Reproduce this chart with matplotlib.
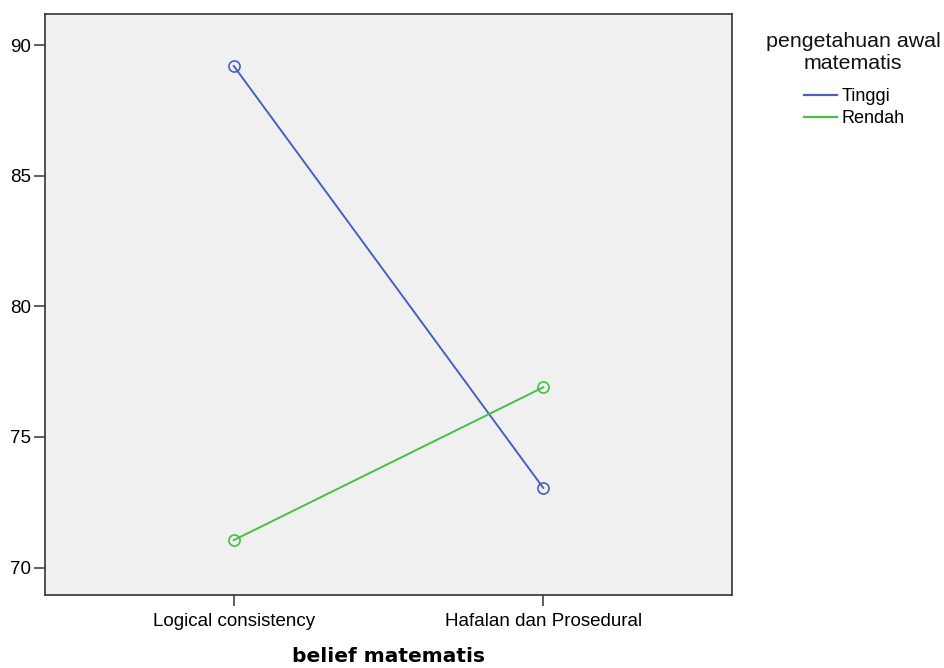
import matplotlib
matplotlib.use("Agg")
import matplotlib.pyplot as plt

categories = ["Logical consistency", "Hafalan dan Prosedural"]
tinggi = [89.2, 73.05]
rendah = [71.05, 76.9]
series_names = ["Tinggi", "Rendah"]
yticks = [70, 75, 80, 85, 90]
legend_title = ["pengetahuan awal", "matematis"]

plt.rcParams['font.family'] = ['Liberation Sans', 'DejaVu Sans']

W, H = 944, 668
fig = plt.figure(figsize=(W/100, H/100), dpi=100)
ax = fig.add_axes([45/W, 1-595/H, (732-45)/W, (595-14)/H])
ax.set_facecolor('#f0f0f0')

x = list(range(len(categories)))
blue = '#4a5fbf'
green = '#45c045'
ax.plot(x, tinggi, color=blue, lw=1.4, marker='o', ms=8, mfc='none', mec=blue, mew=1.2, label=series_names[0])
ax.plot(x, rendah, color=green, lw=1.4, marker='o', ms=8, mfc='none', mec=green, mew=1.2, label=series_names[1])

ax.set_xlim(-0.61, 1.61)
ax.set_ylim(68.95, 91.19)
ax.set_xticks(x)
ax.set_xticklabels(categories, fontsize=13.5)
ax.set_yticks(yticks)
ax.set_yticklabels([str(v) for v in yticks], fontsize=13.5)
ax.tick_params(axis='x', length=8, width=1.1, color='#333333', pad=5)
ax.tick_params(axis='y', length=8, width=1.1, color='#333333', pad=2)
for s in ax.spines.values():
    s.set_color('#333333')
    s.set_linewidth(1.2)

ax.set_xlabel("belief matematis", fontsize=14.5, fontweight='bold', family=['DejaVu Sans'], labelpad=12)

# legend title (two centred lines)
fig.text(853/W, 1-47/H, legend_title[0], fontsize=15.4, ha='center', va='baseline', color='#111111')
fig.text(853/W, 1-69/H, legend_title[1], fontsize=15.4, ha='center', va='baseline', color='#111111')

leg = fig.legend(handles=ax.get_lines(), labels=series_names, loc='upper left',
                 bbox_to_anchor=(804/W, 1-88/H), frameon=False, borderpad=0, borderaxespad=0,
                 fontsize=13, handlelength=1.8, handletextpad=0.28, labelspacing=0.28)
for h in leg.legend_handles:
    h.set_marker('')
    h.set_linewidth(1.6)

fig.savefig("out.png", dpi=100)
